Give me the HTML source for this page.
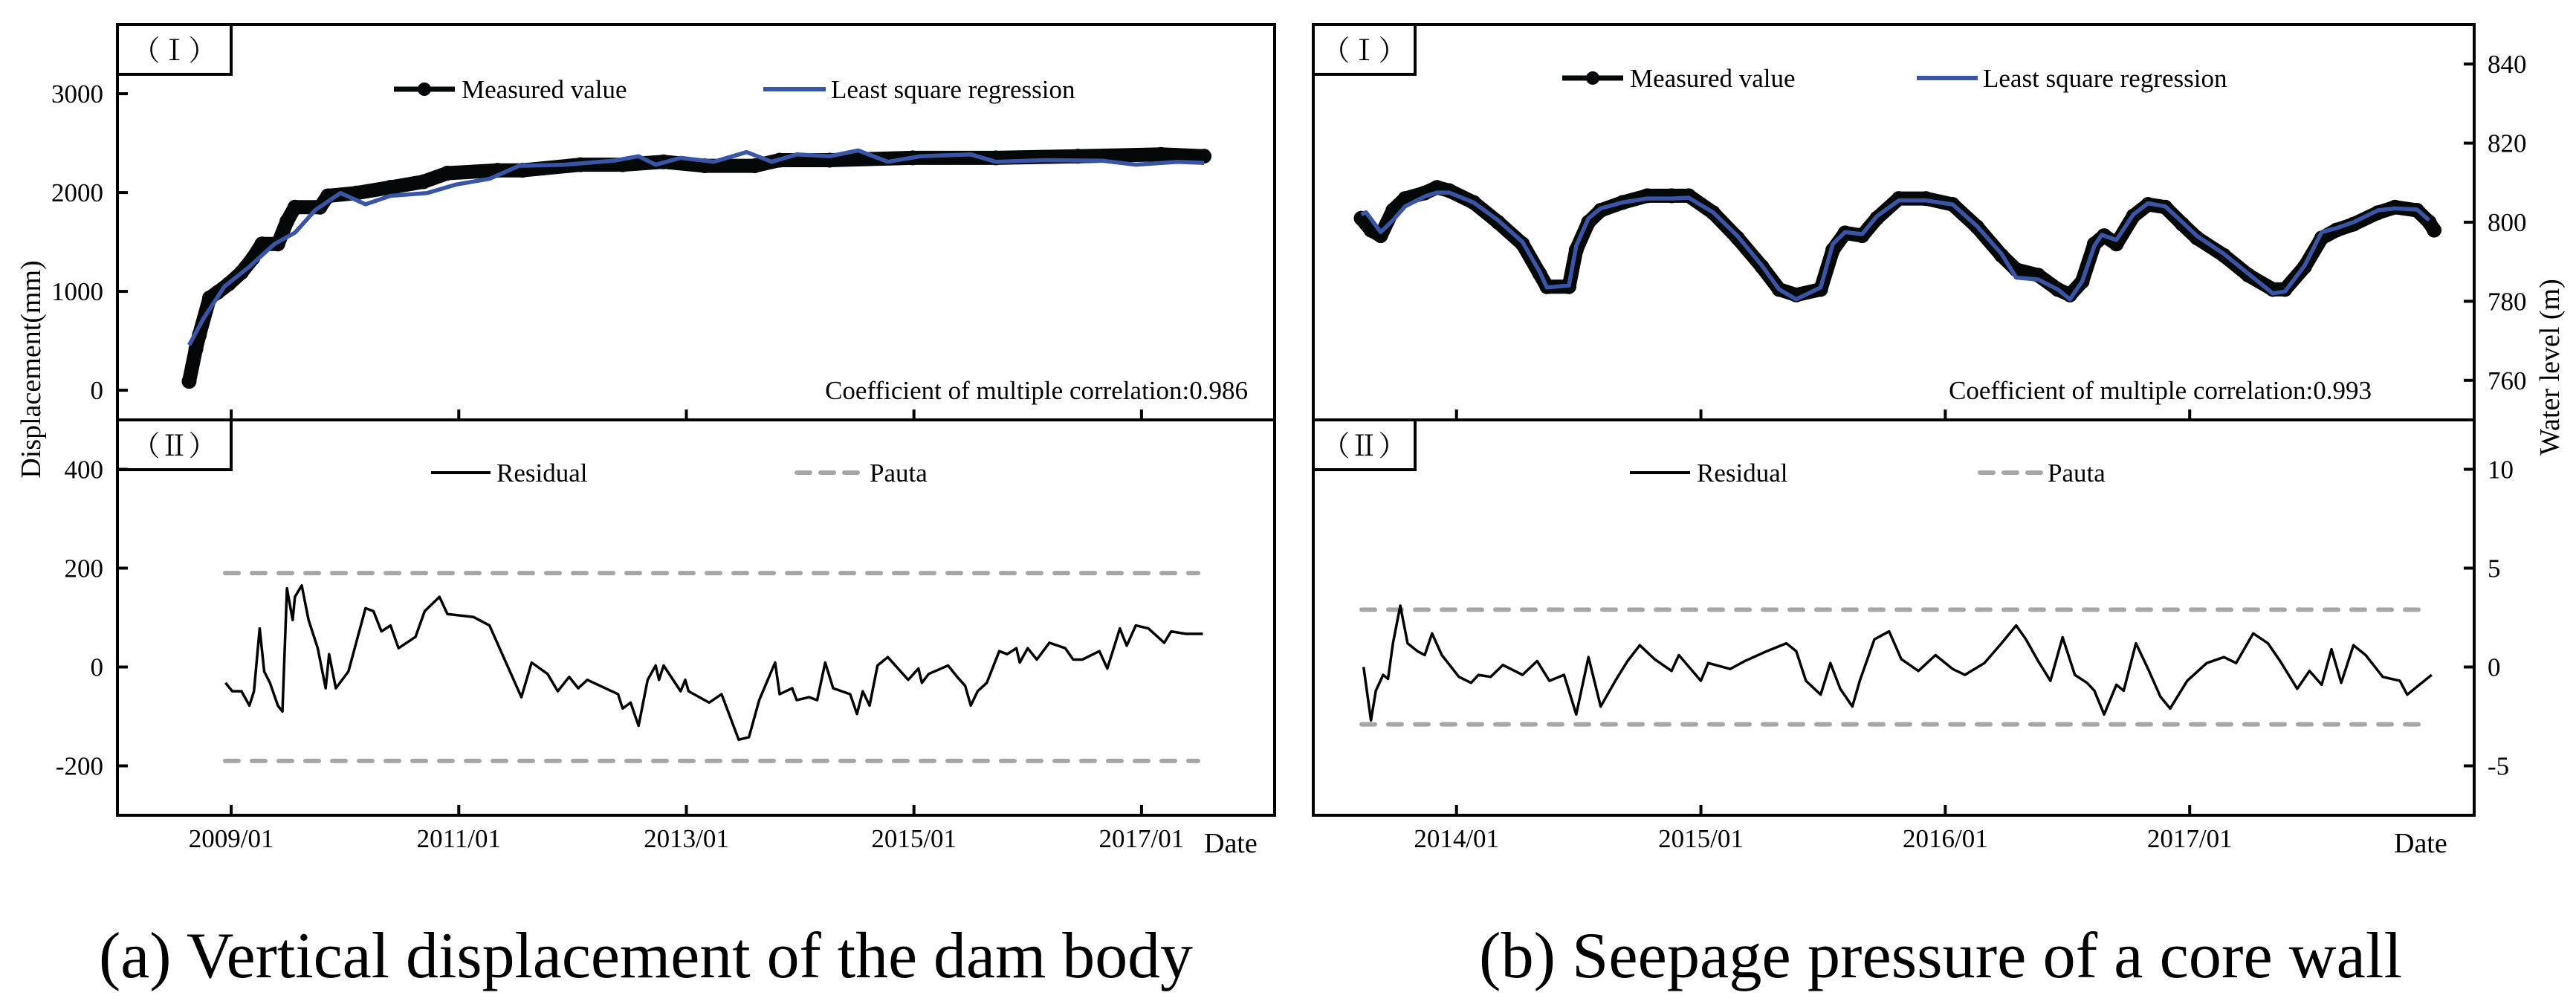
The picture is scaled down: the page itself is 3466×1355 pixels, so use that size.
<!DOCTYPE html>
<html><head><meta charset="utf-8"><style>
html,body{margin:0;padding:0;background:#fff;}
svg{display:block;font-family:"Liberation Serif","Noto Serif CJK SC",serif;}
</style></head><body>
<svg id="fig" width="3466" height="1355" viewBox="0 0 3466 1355" xmlns="http://www.w3.org/2000/svg">
<text x="133" y="1315" font-size="88" textLength="1472" lengthAdjust="spacingAndGlyphs">(a) Vertical displacement of the dam body</text>
<text x="1990" y="1315" font-size="88" textLength="1242" lengthAdjust="spacingAndGlyphs">(b) Seepage pressure of a core wall</text>
</svg>
<script>
// ---- Chart (a) data ----
const aMeasDates=[2008.63,2008.69,2008.72,2008.81,2008.88,2008.98,2009.09,2009.19,2009.27,2009.41,2009.49,2009.56,2009.78,2009.85,2010.1,2010.4,2010.69,2010.9,2011.34,2011.56,2012.07,2012.44,2012.8,2013.16,2013.6,2013.82,2014.26,2014.99,2015.72,2016.44,2017.17,2017.55];
const aMeasVals=[90,420,560,934,990,1077,1192,1336,1480,1480,1709,1852,1852,1967,1995,2053,2110,2196,2225,2225,2282,2282,2311,2271,2271,2328,2328,2351,2351,2368,2386,2368];
const aRegDates=[2008.63,2008.76,2008.94,2009.16,2009.38,2009.56,2009.74,2009.96,2010.18,2010.4,2010.72,2010.98,2011.27,2011.53,2011.93,2012.36,2012.58,2012.73,2012.95,2013.24,2013.53,2013.75,2013.97,2014.26,2014.51,2014.77,2015.06,2015.5,2015.72,2016.15,2016.66,2016.95,2017.32,2017.55];
const aRegVals=[457,733,1049,1250,1480,1594,1824,1995,1881,1967,1995,2082,2139,2271,2282,2322,2368,2282,2351,2311,2409,2311,2386,2368,2426,2311,2368,2386,2311,2328,2322,2282,2311,2299];
const aResDates=[2008.95,2009.01,2009.09,2009.16,2009.2,2009.25,2009.29,2009.34,2009.41,2009.45,2009.49,2009.54,2009.56,2009.62,2009.68,2009.76,2009.83,2009.86,2009.92,2010.03,2010.18,2010.25,2010.32,2010.4,2010.47,2010.62,2010.7,2010.83,2010.9,2011.13,2011.27,2011.55,2011.64,2011.78,2011.87,2011.97,2012.05,2012.13,2012.4,2012.44,2012.51,2012.58,2012.66,2012.73,2012.76,2012.8,2012.95,2012.99,2013.02,2013.2,2013.31,2013.46,2013.55,2013.64,2013.78,2013.82,2013.93,2013.97,2014.08,2014.15,2014.22,2014.29,2014.44,2014.5,2014.55,2014.61,2014.68,2014.77,2014.95,2015.04,2015.07,2015.13,2015.3,2015.38,2015.45,2015.5,2015.56,2015.64,2015.75,2015.82,2015.9,2015.93,2016.0,2016.08,2016.19,2016.33,2016.4,2016.48,2016.63,2016.7,2016.81,2016.87,2016.95,2017.06,2017.2,2017.26,2017.39,2017.54];
const aResVals=[-32,-49,-49,-78,-49,78,-9,-32,-78,-90,159,95,142,165,95,38,-43,26,-43,-9,119,113,72,84,38,61,113,142,107,101,84,-61,9,-14,-49,-20,-43,-26,-55,-84,-72,-119,-26,3,-26,3,-49,-26,-49,-72,-55,-147,-142,-67,9,-55,-43,-67,-61,-67,9,-43,-55,-95,-49,-78,3,20,-26,-3,-32,-14,3,-20,-38,-78,-49,-32,32,26,38,9,38,15,49,38,15,15,32,-3,78,43,84,78,49,72,67,67];
const aPauta=[190,-190];
const aYTop=[0,1000,2000,3000];
const aYBot=[-200,0,200,400];
const aXTicks=[2009,2011,2013,2015,2017];
const aXLabels=["2009/01","2011/01","2013/01","2015/01","2017/01"];
// ---- Chart (b) data ----
const bMeasDates=[2013.61,2013.65,2013.69,2013.74,2013.79,2013.87,2013.92,2013.97,2014.07,2014.17,2014.27,2014.34,2014.37,2014.46,2014.49,2014.54,2014.59,2014.68,2014.78,2014.88,2014.95,2015.05,2015.15,2015.25,2015.32,2015.39,2015.49,2015.54,2015.59,2015.66,2015.72,2015.81,2015.92,2016.03,2016.13,2016.23,2016.29,2016.38,2016.46,2016.51,2016.56,2016.61,2016.65,2016.7,2016.77,2016.83,2016.9,2016.97,2017.03,2017.14,2017.24,2017.34,2017.39,2017.47,2017.54,2017.6,2017.67,2017.77,2017.84,2017.93,2017.98,2018.0];
const bMeasVals=[801,798,796.6,803,806,807.4,808.8,808,805,800,794.5,787,783.7,783.7,793,800,803,805,806.7,806.7,806.7,802.4,796,788.7,783,781.6,783,793,797.3,796.6,801,806,806,804.5,798.8,791.6,788,786.6,783,781.6,785,794.5,796.6,794.5,801.6,804.5,803.8,799.5,796,791.6,786.6,783,783,788.7,796,798,799.5,802.4,803.8,803,800,798];
const bRegDates=[2013.61,2013.63,2013.69,2013.74,2013.79,2013.87,2013.92,2013.97,2014.07,2014.17,2014.27,2014.34,2014.37,2014.46,2014.49,2014.54,2014.59,2014.68,2014.78,2014.88,2014.95,2015.05,2015.15,2015.25,2015.32,2015.39,2015.49,2015.54,2015.59,2015.66,2015.72,2015.81,2015.92,2016.03,2016.13,2016.23,2016.29,2016.38,2016.46,2016.51,2016.56,2016.61,2016.64,2016.7,2016.77,2016.83,2016.9,2016.97,2017.03,2017.14,2017.24,2017.34,2017.39,2017.47,2017.54,2017.6,2017.67,2017.77,2017.84,2017.93,2017.98];
const bRegVals=[802,802.5,797.5,800.5,804,806.5,807.5,807.5,805,800.5,795,787.5,783.5,784,794,801,803.5,805,806,806,806.2,802.5,796.5,789,783,780.5,783.5,794.5,797.5,797,801.5,805.5,805.5,804.5,799,792,786,785.5,783,780.5,785,794,796.8,795.5,802,804.8,804,800,796.5,792,787,782,782.5,789,797.5,798.5,800,803,803.5,803.2,800.5];
const bResDates=[2013.62,2013.65,2013.67,2013.7,2013.72,2013.74,2013.77,2013.8,2013.84,2013.87,2013.9,2013.94,2014.01,2014.06,2014.09,2014.14,2014.19,2014.27,2014.33,2014.38,2014.44,2014.46,2014.49,2014.54,2014.59,2014.65,2014.7,2014.75,2014.81,2014.88,2014.91,2015.0,2015.03,2015.12,2015.18,2015.27,2015.35,2015.39,2015.43,2015.49,2015.53,2015.57,2015.62,2015.65,2015.71,2015.77,2015.82,2015.89,2015.96,2016.03,2016.08,2016.16,2016.23,2016.29,2016.33,2016.38,2016.43,2016.48,2016.53,2016.58,2016.61,2016.65,2016.7,2016.73,2016.78,2016.83,2016.88,2016.92,2016.99,2017.07,2017.14,2017.19,2017.26,2017.32,2017.37,2017.44,2017.49,2017.54,2017.58,2017.62,2017.67,2017.72,2017.79,2017.86,2017.89,2017.94,2017.99];
const bResVals=[0,-2.7,-1.2,-0.4,-0.6,1.2,3.1,1.2,0.8,0.6,1.7,0.6,-0.5,-0.8,-0.4,-0.5,0.1,-0.4,0.3,-0.7,-0.4,-1.2,-2.4,0.5,-2.0,-0.7,0.3,1.1,0.4,-0.2,0.6,-0.7,0.2,-0.1,0.3,0.8,1.2,0.8,-0.7,-1.4,0.2,-1.1,-2.0,-0.7,1.4,1.8,0.4,-0.2,0.6,-0.1,-0.4,0.2,1.2,2.1,1.4,0.3,-0.7,1.5,-0.4,-0.8,-1.2,-2.4,-0.9,-1.2,1.2,-0.1,-1.5,-2.1,-0.7,0.2,0.5,0.2,1.7,1.2,0.3,-1.1,-0.2,-0.9,0.9,-0.8,1.1,0.6,-0.5,-0.7,-1.4,-0.9,-0.4];
const bPauta=[2.9,-2.9];
const bYTop=[760,780,800,820,840];
const bYBot=[-5,0,5,10];
const bXTicks=[2014,2015,2016,2017];
const bXLabels=["2014/01","2015/01","2016/01","2017/01"];

const NS="http://www.w3.org/2000/svg";
const svg=document.getElementById('fig');
function el(tag,attrs,parent,text){const e=document.createElementNS(NS,tag);for(const k in attrs)e.setAttribute(k,attrs[k]);if(text!==undefined)e.textContent=text;(parent||svg).appendChild(e);return e;}
function lin(d0,d1,r0,r1){return v=>r0+(v-d0)/(d1-d0)*(r1-r0);}
function pts(xs,ys,fx,fy){return xs.map((x,i)=>fx(x).toFixed(1)+','+fy(ys[i]).toFixed(1)).join(' ');}

function drawChart(cfg){
  const L=cfg.left,R=cfg.right,T=33,M=565,B=1097;
  const fx=lin(cfg.x0,cfg.x1,L,R);
  const fyT=lin(cfg.tMin,cfg.tMax,M,T);
  const fyB=lin(cfg.bMin,cfg.bMax,B,M);
  const g=el('g',{});
  
  
  const meas=el('polyline',{points:pts(cfg.mD,cfg.mV,fx,fyT),fill:'none',stroke:'#050808','stroke-width':cfg.mW,'stroke-linejoin':'round','stroke-linecap':'round'},g);
  
  
  cfg.mD.forEach((d,i)=>{const c=el('circle',{cx:fx(d),cy:fyT(cfg.mV[i]),r:10,fill:'#050808'},g);
    
    });
  const reg=el('polyline',{points:pts(cfg.rD,cfg.rV,fx,fyT),fill:'none',stroke:'#3a55a6','stroke-width':5.5,'stroke-linejoin':'round'},g);
  
  
  cfg.pauta.forEach(p=>{const l=el('line',{x1:cfg.pX0,x2:cfg.pX1,y1:fyB(p),y2:fyB(p),stroke:'#a6a6a6','stroke-width':6,'stroke-dasharray':'18 18','stroke-linecap':'round'},g);
    
    });
  const res=el('polyline',{points:pts(cfg.sD,cfg.sV,fx,fyB),fill:'none',stroke:'#000','stroke-width':3.5,'stroke-linejoin':'round'},g);
  
  
  const fr=el('rect',{x:L,y:T,width:R-L,height:B-T,fill:'none',stroke:'#000','stroke-width':4},g);
  
  
  const dv=el('line',{x1:L,x2:R,y1:M,y2:M,stroke:'#000','stroke-width':4},g);
  
  
  [[T,'（Ⅰ）','panel-label-1'],[M,'（Ⅱ）','panel-label-2']].forEach(([y,t,n])=>{
    const b=el('rect',{x:L,y:y,width:cfg.boxW,height:67,fill:'#fff',stroke:'#000','stroke-width':4},g);
    
    
    const tx=el('text',{x:L+cfg.boxW/2,y:y+48,'font-size':38,'text-anchor':'middle'},g,t);
    
    
  });
  const side=cfg.axisRight;
  const tickX=side?R:L, dir=side?-1:1;
  const doTicks=(vals,fy,nm)=>vals.forEach(v=>{const y=fy(v);
    const t=el('line',{x1:tickX,x2:tickX+dir*14,y1:y,y2:y,stroke:'#000','stroke-width':4},g);
    
    
    const lb=el('text',{x:side?R+18:L-19,y:y+12,'font-size':35,'text-anchor':side?'start':'end'},g,String(v));
    
    });
  doTicks(cfg.yT,fyT,'y-top');
  doTicks(cfg.yB,fyB,'y-bottom');
  cfg.xT.forEach((v,i)=>{const x=fx(v);
    [[M,M-14],[B,B-14]].forEach(([a,b])=>{const t=el('line',{x1:x,x2:x,y1:a,y2:b,stroke:'#000','stroke-width':4},g);
      
      });
    const lb=el('text',{x:x,y:1140,'font-size':35,'text-anchor':'middle'},g,cfg.xL[i]);
    
    });
  const dt=el('text',{x:cfg.dateX,y:1147,'font-size':38},g,'Date');
  
  
  const lg=cfg.leg;
  let a=el('line',{x1:lg.m[0],x2:lg.m[1],y1:lg.y1,y2:lg.y1,stroke:'#050808','stroke-width':7},g);
  
  
  a=el('circle',{cx:(lg.m[0]+lg.m[1])/2,cy:lg.y1,r:9,fill:'#050808'},g);
  
  
  a=el('text',{x:lg.m[2],y:lg.y1+12,'font-size':35},g,'Measured value');
  
  
  a=el('line',{x1:lg.r[0],x2:lg.r[1],y1:lg.y1,y2:lg.y1,stroke:'#3a55a6','stroke-width':6},g);
  
  
  a=el('text',{x:lg.r[2],y:lg.y1+12,'font-size':35},g,'Least square regression');
  
  
  a=el('line',{x1:lg.s[0],x2:lg.s[1],y1:636,y2:636,stroke:'#000','stroke-width':4},g);
  
  
  a=el('text',{x:lg.s[2],y:648,'font-size':35},g,'Residual');
  
  
  a=el('line',{x1:lg.p[0],x2:lg.p[1],y1:636,y2:636,stroke:'#a6a6a6','stroke-width':6,'stroke-dasharray':'18 14','stroke-linecap':'round'},g);
  
  
  a=el('text',{x:lg.p[2],y:648,'font-size':35},g,'Pauta');
  
  
  a=el('text',{x:cfg.coefX,y:537,'font-size':35,'text-anchor':'end'},g,cfg.coef);
  
  
  a=el('text',{x:0,y:0,'font-size':38,'text-anchor':'middle',transform:`translate(${cfg.yTitle[0]},${cfg.yTitle[1]}) rotate(-90)`},g,cfg.yTitleText);
  
  
}

drawChart({name:'chart-a',left:158,right:1715,x0:2008.0,x1:2018.17,tMin:-300,tMax:3700,bMin:-300,bMax:500,
  mD:aMeasDates,mV:aMeasVals,rD:aRegDates,rV:aRegVals,sD:aResDates,sV:aResVals,pauta:aPauta,pX0:303,pX1:1612,mW:19,
  boxW:153,axisRight:false,yT:aYTop,yB:aYBot,xT:aXTicks,xL:aXLabels,dateX:1620,
  leg:{y1:120,m:[530,612,621],r:[1027,1111,1118],s:[580,660,668],p:[1072,1157,1170]},
  coefX:1679,coef:'Coefficient of multiple correlation:0.986',yTitle:[54,497],yTitleText:'Displacement(mm)'});
drawChart({name:'chart-b',left:1767,right:3329,x0:2013.414,x1:2018.164,tMin:750,tMax:850,bMin:-7.5,bMax:12.5,
  mD:bMeasDates,mV:bMeasVals,rD:bRegDates,rV:bRegVals,sD:bResDates,sV:bResVals,pauta:bPauta,pX0:1832,pX1:3262,mW:19,
  boxW:137,axisRight:true,yT:bYTop,yB:bYBot,xT:bXTicks,xL:bXLabels,dateX:3221,
  leg:{y1:105,m:[2102,2184,2193],r:[2579,2661,2668],s:[2193,2274,2283],p:[2664,2747,2755]},
  coefX:3191,coef:'Coefficient of multiple correlation:0.993',yTitle:[3443,494],yTitleText:'Water level (m)'});
</script>
</body></html>
